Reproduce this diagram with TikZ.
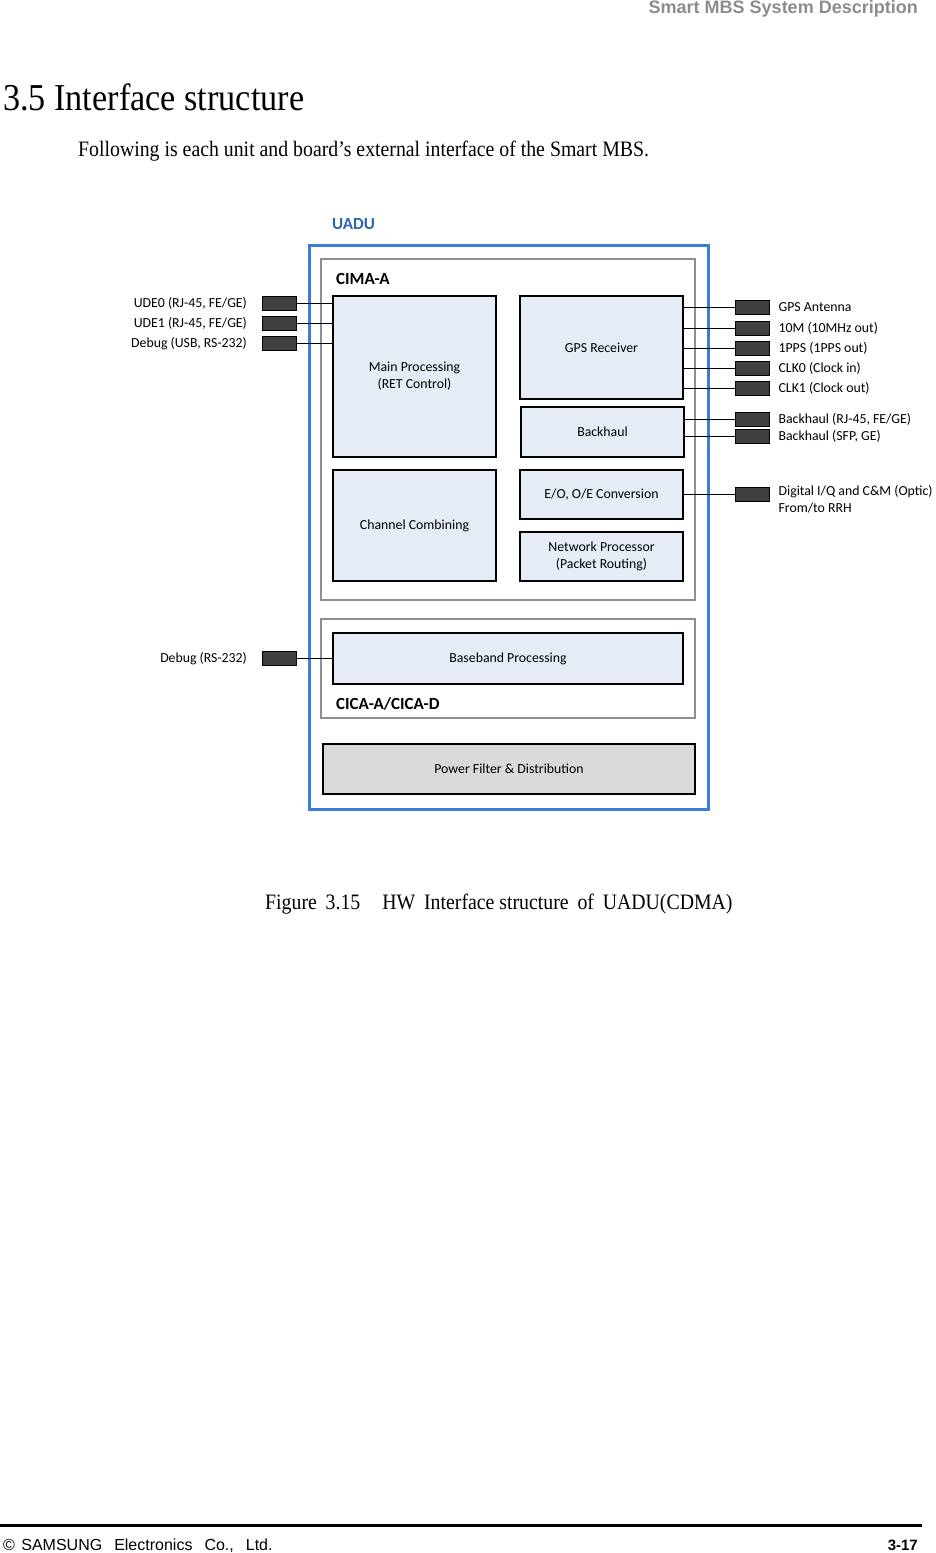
\documentclass[tikz,border=0pt]{standalone}
\usepackage{fontspec}
\setmainfont{Liberation Serif}
\newfontfamily\calibri{Carlito}
\newfontfamily\arialfont{Liberation Sans}
\newfontfamily\narrowserif[FakeStretch=0.9]{Liberation Serif}
\usepackage{tikz}
\usetikzlibrary{positioning}
\definecolor{unitfill}{HTML}{E5ECF6}
\definecolor{powerfill}{HTML}{D9D9D9}
\definecolor{portgray}{HTML}{404040}
\definecolor{boardgray}{HTML}{8F8F8F}
\definecolor{uaduline}{HTML}{3B7DD8}
\definecolor{uadutext}{HTML}{2E63B2}
\definecolor{headgray}{HTML}{8C8C8C}

\begin{document}
\begin{tikzpicture}[
  x=1pt, y=-1pt,
  font=\calibri\fontsize{13.8}{17}\selectfont,
  unit/.style={draw=black,fill=unitfill,line width=1.8pt,align=center,inner sep=0pt},
  board/.style={draw=boardgray,line width=2pt,inner sep=0pt},
  bname/.style={font=\calibri\bfseries\fontsize{17}{20}\selectfont,anchor=west,inner sep=0pt},
  port/.style={draw=black,fill=portgray,line width=0.8pt,minimum width=34pt,
               minimum height=14pt,inner sep=0pt},
  wire/.style={draw=black,line width=1pt},
  plbl/.style={inner sep=0pt,align=left},
]
\useasboundingbox (0,0) rectangle (935,1553);

% --- page header and text ---------------------------------------------------
\node[anchor=base east,inner sep=0pt,text=headgray,
      font=\arialfont\bfseries\fontsize{18}{20}\selectfont] (head) at (918,13)
      {Smart MBS System Description};
\node[anchor=base west,inner sep=0pt,font=\narrowserif\fontsize{38}{42}\selectfont]
      (title) at (3,110) {3.5 Interface structure};
\node[anchor=base west,inner sep=0pt,font=\narrowserif\fontsize{22}{26}\selectfont]
      (intro) at (78,156) {Following is each unit and board’s external interface of the Smart MBS.};

% --- the UADU shelf and its two boards --------------------------------------
\node[draw=uaduline,line width=3pt,minimum width=399pt,minimum height=564pt,inner sep=0pt]
      (uadu) at (508.5,527) {};
\node[bname,text=uadutext] (uaduname) at (332,224) {UADU};
\node[board,minimum width=374pt,minimum height=341pt] (cima) at (508,429.5) {};
\node[board,minimum width=374pt,minimum height=99pt]  (cica) at (508,668.5) {};
\node[bname] (cimaname) at (336,279) {CIMA-A};
\node[bname] (cicaname) at (336,704) {CICA-A/CICA-D};

% --- functional blocks ------------------------------------------------------
\node[unit,minimum width=163pt,minimum height=161pt] (main)  at (414.5,376.5) {Main Processing\\(RET Control)};
\node[unit,minimum width=163pt,minimum height=103pt] (gps)   at (601.5,347.5) {GPS Receiver};
\node[unit,minimum width=163pt,minimum height=50pt]  (bhaul) at (602.5,432)   {Backhaul};
\node[unit,minimum width=163pt,minimum height=111pt] (comb)  at (414.5,525.5) {Channel Combining};
\node[unit,minimum width=163pt,minimum height=49pt]  (eoconv) at (601.5,494.5) {E/O, O/E Conversion};
\node[unit,minimum width=163pt,minimum height=49pt]  (netp)  at (601.5,556.5) {Network Processor\\(Packet Routing)};
\node[unit,minimum width=350pt,minimum height=51pt]  (bband) at (508,658.5)   {Baseband Processing};
\node[unit,fill=powerfill,minimum width=372pt,minimum height=50pt] (power) at (509,769) {Power Filter \& Distribution};

% --- ports on the left ------------------------------------------------------
\node[port] (ude0)   at (279.5,303.5) {};
\node[port] (ude1)   at (279.5,323.5) {};
\node[port] (dbgusb) at (279.5,343.5) {};
\node[port] (dbgbb)  at (279.5,658.5) {};
\node[plbl,left=15pt of ude0]   {UDE0 (RJ-45, FE/GE)};
\node[plbl,left=15pt of ude1]   {UDE1 (RJ-45, FE/GE)};
\node[plbl,left=15pt of dbgusb] {Debug (USB, RS-232)};
\node[plbl,left=15pt of dbgbb]  {Debug (RS-232)};
\foreach \p in {ude0,ude1,dbgusb}
  \draw[wire] (\p.east) -- (\p -| main.west);
\draw[wire] (dbgbb.east) -- (dbgbb -| bband.west);

% --- ports on the right -----------------------------------------------------
\node[port] (gpsant) at (752,307.5) {};
\node[port] (tenm)   at (752,328)   {};
\node[port] (pps)    at (752,348)   {};
\node[port] (clk0)   at (752,368.5) {};
\node[port] (clk1)   at (752,388.5) {};
\node[port] (bhrj)   at (752,419.5) {};
\node[port] (bhsfp)  at (752,436.5) {};
\node[port] (optic)  at (752,494.5) {};
\node[plbl,right=9pt of gpsant] {GPS Antenna};
\node[plbl,right=9pt of tenm]   {10M (10MHz out)};
\node[plbl,right=9pt of pps]    {1PPS (1PPS out)};
\node[plbl,right=9pt of clk0]   {CLK0 (Clock in)};
\node[plbl,right=9pt of clk1]   {CLK1 (Clock out)};
\node[plbl,right=9pt of bhrj]   {Backhaul (RJ-45, FE/GE)};
\node[plbl,right=9pt of bhsfp]  {Backhaul (SFP, GE)};
\node[plbl,right=9pt of optic,yshift=-5pt] {Digital I/Q and C\&M (Optic)\\From/to RRH};
\foreach \p in {gpsant,tenm,pps,clk0,clk1}
  \draw[wire] (\p -| gps.east) -- (\p.west);
\foreach \p in {bhrj,bhsfp}
  \draw[wire] (\p -| bhaul.east) -- (\p.west);
\draw[wire] (optic -| eoconv.east) -- (optic.west);

% --- caption and footer -----------------------------------------------------
\node[anchor=base west,inner sep=0pt,font=\narrowserif\fontsize{22}{26}\selectfont]
      (caption) at (265,909) {Figure\hspace{0.4em}3.15\hspace{1em}HW\hspace{0.4em}Interface structure\hspace{0.4em}of\hspace{0.4em}UADU(CDMA)};
\coordinate (ruleL) at (0,1525);
\coordinate (ruleR) at (922,1525);
\draw[line width=3pt] (ruleL) -- (ruleR);
\node[anchor=base west,inner sep=0pt,font=\arialfont\fontsize{16}{19}\selectfont]
      (corp) at (3,1550) {©\hspace{0.4em}SAMSUNG\hspace{0.75em}Electronics\hspace{0.75em}Co.,\hspace{0.75em}Ltd.};
\node[anchor=base east,inner sep=0pt,font=\arialfont\bfseries\fontsize{15}{18}\selectfont]
      (pageno) at (918,1550) {3-17};
\end{tikzpicture}
\end{document}
